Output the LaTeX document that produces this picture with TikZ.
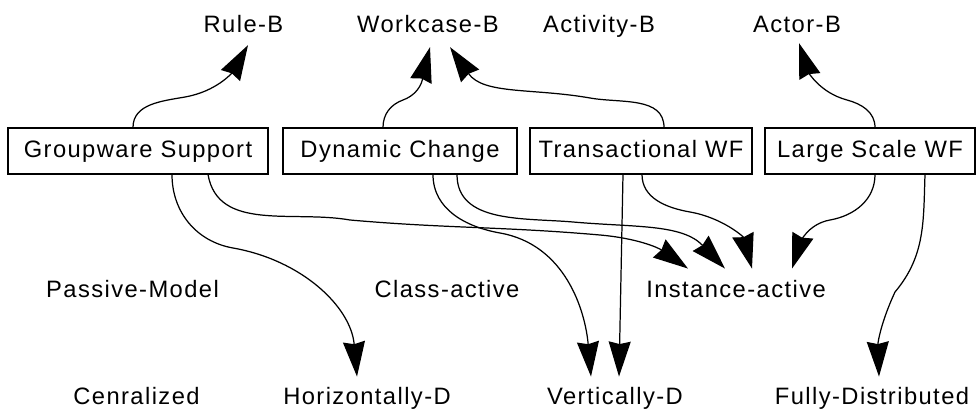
\documentclass[tikz,border=0pt]{standalone}
\usepackage{fontspec}
\setmainfont{Liberation Sans}[LetterSpace=6]
\usetikzlibrary{arrows.meta,positioning}
\tikzset{
  featbox/.style={rectangle,draw=black,line width=0.6pt,minimum height=0.92cm,
    text height=10pt,text depth=3pt,inner sep=2pt,font=\fontsize{13.5}{16}\selectfont},
  catlabel/.style={anchor=base,text height=10pt,text depth=3pt,inner sep=2pt,
    font=\fontsize{13.5}{16}\selectfont},
  arr/.style={line width=0.7pt,-{Stealth[length=7mm,width=4.4mm,inset=0.5mm]}}
}

\begin{document}
\begin{tikzpicture}
  \useasboundingbox (0,0) rectangle (19.54,-8.2);

  \node[featbox,minimum width=5.2cm] (gws) at (2.76,-3.02) {Groupware Support};
  \node[featbox,minimum width=4.68cm] (dyn) at (8.0,-3.02) {Dynamic Change};
  \node[featbox,minimum width=4.44cm] (trans) at (12.82,-3.02) {Transactional WF};
  \node[featbox,minimum width=4.2cm] (large) at (17.4,-3.02) {Large Scale WF};

  \node[catlabel] (ruleB) at (4.87,-0.66) {Rule-B};
  \node[catlabel] (workB) at (8.56,-0.66) {Workcase-B};
  \node[catlabel] (actvB) at (11.98,-0.66) {Activity-B};
  \node[catlabel] (actorB) at (15.94,-0.66) {Actor-B};

  \node[catlabel] (passive) at (2.65,-5.94) {Passive-Model};
  \node[catlabel] (classAct) at (8.94,-5.94) {Class-active};
  \node[catlabel] (instAct) at (14.72,-5.94) {Instance-active};

  \node[catlabel] (central) at (2.73,-8.08) {Cenralized};
  \node[catlabel] (horizD) at (7.34,-8.08) {Horizontally-D};
  \node[catlabel] (vertD) at (12.3,-8.08) {Vertically-D};
  \node[catlabel] (fullyD) at (17.44,-8.08) {Fully-Distributed};

  % upward links
  \draw[arr] ([xshift=-0.1cm]gws.north) to[out=90,in=190] (3.7,-1.94)
    to[out=10,in=-120] ([xshift=0.09cm,yshift=-0.06cm]ruleB.south);
  \draw[arr] ([xshift=-0.34cm]dyn.north) to[out=90,in=200] (8.06,-2.0)
    to[out=20,in=-105] ([xshift=0.04cm,yshift=-0.1cm]workB.south);
  \draw[arr] ([xshift=0.46cm]trans.north) to[out=90,in=-10] (11.8,-1.96)
    to[out=170,in=-55] ([xshift=0.44cm,yshift=-0.1cm]workB.south);
  \draw[arr] ([xshift=0.1cm]large.north) to[out=90,in=-15] (16.94,-2.0)
    to[out=165,in=-72] ([xshift=0.04cm,yshift=-0.02cm]actorB.south);

  % downward links
  \draw[arr] ([xshift=0.68cm]gws.south) to[out=-90,in=170] (4.66,-4.96)
    to[out=-10,in=95] ([xshift=-0.2cm,yshift=0.12cm]horizD.north);
  \draw[arr] ([xshift=1.4cm]gws.south) to[out=-80,in=170] (7.0,-4.4)
    to[out=-5,in=175] (12.0,-4.7) to[out=-5,in=145] ([xshift=-0.96cm,yshift=0.14cm]instAct.north);
  \draw[arr] ([xshift=1.14cm]dyn.south) to[out=-90,in=175] (11.46,-4.44)
    to[out=-5,in=134] ([xshift=-0.22cm,yshift=0.14cm]instAct.north);
  \draw[arr] ([xshift=0.66cm]dyn.south) to[out=-90,in=170] (10.0,-4.66)
    to[out=-10,in=95] ([xshift=-0.48cm,yshift=0.12cm]vertD.north);
  \draw[arr] ([xshift=-0.36cm]trans.south) -- ([xshift=0.08cm,yshift=0.12cm]vertD.north);
  \draw[arr] ([xshift=0.02cm]trans.south) to[out=-90,in=170] (13.8,-4.24)
    to[out=-10,in=105] ([xshift=0.32cm,yshift=0.14cm]instAct.north);
  \draw[arr] ([xshift=0.1cm]large.south) to[out=-90,in=10] (16.6,-4.4)
    to[out=190,in=72] ([xshift=1.12cm,yshift=0.14cm]instAct.north);
  \draw[arr] ([xshift=1.1cm]large.south) to[out=-92,in=50] (17.9,-5.84)
    to[out=-115,in=92] ([xshift=0.14cm,yshift=0.12cm]fullyD.north);
\end{tikzpicture}
\end{document}
